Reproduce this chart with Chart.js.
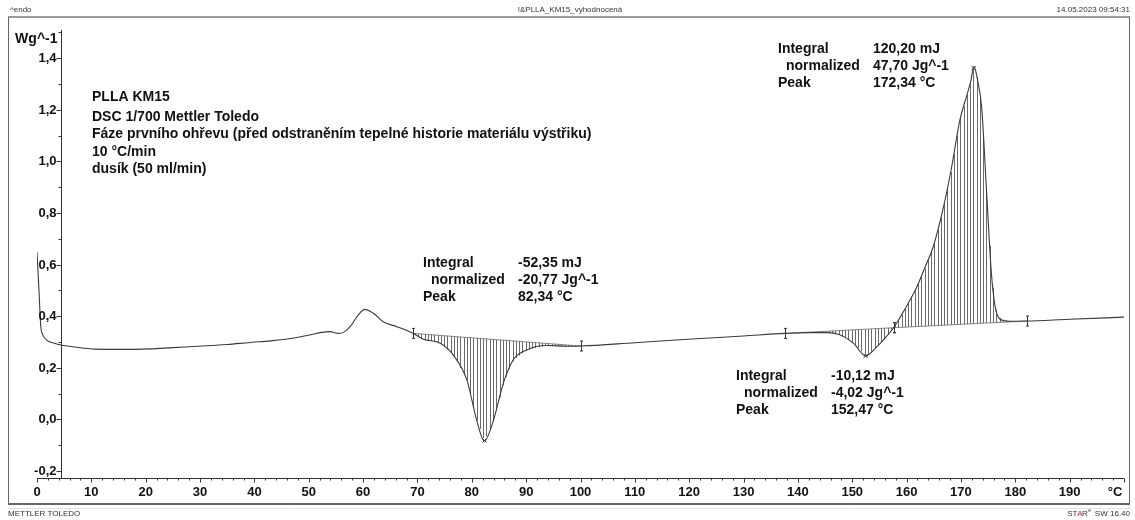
<!DOCTYPE html>
<html>
<head>
<meta charset="utf-8">
<script src="https://cdn.jsdelivr.net/npm/chart.js@4/dist/chart.umd.min.js"></script>
<style>
  html, body { margin: 0; padding: 0; background: #fff; }
  #wrap { width: 1135px; height: 520px; position: relative; }
</style>
</head>
<body>
<div id="wrap"><canvas id="dsc"></canvas></div>
<script>
// DSC curve, temperature in °C, heat flow in Wg^-1
var temps = [0, 0.35, 0.7, 1.0, 1.8, 3, 4.4, 7, 10.7, 15, 20.8, 25, 30.4, 35, 39.2, 43, 47.1, 50.2, 52.4, 53.9, 55.4, 56.5,
  57.6, 59.1, 60.3, 61.9, 63.7, 66.2, 69.2, 71.1, 74.2, 76.6, 79.1, 80.9, 82.3, 84.0, 85.8, 87.6, 90.1, 93.8, 97.5, 100.1,
  110, 122, 130, 137.6, 141.6, 145.3, 147.7, 150.2, 152.5, 154.5, 156.0, 157.6, 158.8, 160.3, 161.9, 163.4, 164.9, 166.8,
  168.3, 169.8, 171.0, 171.8, 172.4, 173.1, 173.8, 174.7, 175.6, 176.3, 177.2, 179, 182.1, 190, 200];
var heatFlow = [0.648, 0.505, 0.359, 0.33, 0.307, 0.296, 0.288, 0.280, 0.272, 0.271, 0.273, 0.278, 0.284, 0.290, 0.298, 0.304, 0.314, 0.327, 0.337, 0.340, 0.333, 0.338,
  0.359, 0.404, 0.426, 0.411, 0.378, 0.359, 0.333, 0.310, 0.295, 0.249, 0.152, -0.003, -0.084, -0.003, 0.140, 0.230, 0.269, 0.286, 0.283, 0.284,
  0.297, 0.313, 0.323, 0.333, 0.336, 0.336, 0.328, 0.295, 0.245, 0.281, 0.314, 0.355, 0.395, 0.450, 0.514, 0.590, 0.669, 0.824,
  0.979, 1.160, 1.250, 1.310, 1.367, 1.310, 1.212, 0.889, 0.566, 0.436, 0.388, 0.380, 0.381, 0.388, 0.396];

var xTicks = [0, 10, 20, 30, 40, 50, 60, 70, 80, 90, 100, 110, 120, 130, 140, 150, 160, 170, 180, 190];
var yTicks = [-0.2, 0, 0.2, 0.4, 0.6, 0.8, 1.0, 1.2, 1.4];

// integration limits and peaks of the three evaluated effects
var limitStart = [69.2, 137.6, 157.6];
var limitEnd = [100.1, 157.6, 182.1];
var peakTemps = [82.34, 152.47, 172.34];
var integralText = ['-52,35 mJ', '-10,12 mJ', '120,20 mJ'];
var normText = ['-20,77 Jg^-1', '-4,02 Jg^-1', '47,70 Jg^-1'];
var peakText = ['82,34 °C', '152,47 °C', '172,34 °C'];

var infoLines = ['PLLA KM15', 'DSC 1/700 Mettler Toledo',
  'Fáze prvního ohřevu (před odstraněním tepelné historie materiálu výstřiku)', '10 °C/min', 'dusík (50 ml/min)'];

var FONT = '"Liberation Sans", Arial, sans-serif';

function interp(t) {
  for (var i = 1; i < temps.length; i++) {
    if (t <= temps[i]) {
      var f = (t - temps[i - 1]) / (temps[i] - temps[i - 1]);
      return heatFlow[i - 1] + f * (heatFlow[i] - heatFlow[i - 1]);
    }
  }
  return heatFlow[heatFlow.length - 1];
}

var curve = temps.map(function (t, i) { return {x: t, y: heatFlow[i]}; });
var baseSets = limitStart.map(function (s, i) {
  return {
    data: [{x: s, y: interp(s)}, {x: limitEnd[i], y: interp(limitEnd[i])}],
    showLine: true, borderColor: '#6a6a6a', borderWidth: 0.8, pointRadius: 0
  };
});
var peakPts = peakTemps.map(function (t) { return {x: t, y: interp(t)}; });

// hatching, limit markers, axes, frame and texts
var printPlugin = {
  id: 'print',
  beforeDatasetsDraw: function (chart) {
    var c = chart.ctx, xs = chart.scales.x, ys = chart.scales.y;
    c.save();
    c.strokeStyle = '#444';
    c.lineWidth = 0.8;
    for (var k = 0; k < limitStart.length; k++) {
      var s = limitStart[k], e = limitEnd[k], b0 = interp(s), b1 = interp(e);
      for (var t = s + 0.3; t < e; t += 0.6) {
        var b = b0 + (b1 - b0) * (t - s) / (e - s);
        var px = Math.round(xs.getPixelForValue(t)) + 0.5;
        c.beginPath();
        c.moveTo(px, ys.getPixelForValue(b));
        c.lineTo(px, ys.getPixelForValue(interp(t)));
        c.stroke();
      }
    }
    c.restore();
  },
  afterDraw: function (chart) {
    var c = chart.ctx, xs = chart.scales.x, ys = chart.scales.y, a = chart.chartArea;
    c.save();

    // limit markers
    c.strokeStyle = '#333';
    c.lineWidth = 1;
    limitStart.concat(limitEnd).forEach(function (t) {
      var px = Math.round(xs.getPixelForValue(t)) + 0.5, py = ys.getPixelForValue(interp(t));
      c.beginPath();
      c.moveTo(px, py - 5); c.lineTo(px, py + 5);
      c.moveTo(px - 1.5, py - 5); c.lineTo(px + 1.5, py - 5);
      c.moveTo(px - 1.5, py + 5); c.lineTo(px + 1.5, py + 5);
      c.stroke();
    });

    // frame
    c.strokeStyle = '#9a9a9a'; c.lineWidth = 2;
    c.beginPath(); c.moveTo(8, 17); c.lineTo(1130, 17); c.stroke();
    c.strokeStyle = '#666'; c.lineWidth = 1;
    c.beginPath(); c.moveTo(8.5, 17); c.lineTo(8.5, 504); c.moveTo(1129.5, 17); c.lineTo(1129.5, 504); c.stroke();
    c.lineWidth = 2;
    c.beginPath(); c.moveTo(8, 504); c.lineTo(1130, 504); c.stroke();
    c.strokeStyle = '#e2e2e2'; c.lineWidth = 1;
    c.beginPath(); c.moveTo(8, 508.5); c.lineTo(1130, 508.5); c.stroke();

    // y axis, drawn at 4.4 °C like the instrument print
    var yx = Math.round(xs.getPixelForValue(4.4)) + 0.5;
    c.strokeStyle = '#333'; c.lineWidth = 1;
    c.beginPath(); c.moveTo(yx, a.top); c.lineTo(yx, a.bottom); c.stroke();
    c.fillStyle = '#111';
    c.font = 'bold 13px ' + FONT;
    c.textAlign = 'right'; c.textBaseline = 'middle';
    yTicks.forEach(function (v) {
      var py = Math.round(ys.getPixelForValue(v)) + 0.5;
      c.beginPath(); c.moveTo(yx - 5, py); c.lineTo(yx, py); c.stroke();
      c.fillText(v.toFixed(1).replace('.', ','), yx - 5, py);
      var pm = Math.round(ys.getPixelForValue(v + 0.1)) + 0.5;
      if (v + 0.1 < ys.max) { c.beginPath(); c.moveTo(yx - 3, pm); c.lineTo(yx, pm); c.stroke(); }
    });

    // x axis
    var ax = Math.round(a.bottom) + 0.5;
    c.beginPath(); c.moveTo(a.left, ax); c.lineTo(a.right, ax); c.stroke();
    for (var t = 0; t <= 200; t += 2) {
      var px = Math.round(xs.getPixelForValue(t)) + 0.5;
      var len = t % 10 === 0 ? 4 : 2;
      c.beginPath(); c.moveTo(px, ax); c.lineTo(px, ax + len); c.stroke();
    }
    c.textAlign = 'center';
    xTicks.forEach(function (v) {
      c.fillText(String(v), xs.getPixelForValue(v), 492);
    });
    c.fillText('°C', 1115, 492);

    c.font = 'bold 14px ' + FONT;
    c.textAlign = 'right';
    c.fillText('Wg^-1', yx - 4, 39);

    // info block
    c.textAlign = 'left';
    var infoY = [97, 117, 134, 152, 169];
    infoLines.forEach(function (s, i) { c.fillText(s, 92, infoY[i]); });

    // integral blocks
    var pos = [[423, 263], [736, 376], [778, 49]];
    pos.forEach(function (p, i) {
      c.fillText('Integral', p[0], p[1]);
      c.fillText('normalized', p[0] + 8, p[1] + 17);
      c.fillText('Peak', p[0], p[1] + 34);
      c.fillText(integralText[i], p[0] + 95, p[1]);
      c.fillText(normText[i], p[0] + 95, p[1] + 17);
      c.fillText(peakText[i], p[0] + 95, p[1] + 34);
    });

    // header and footer
    c.font = '8px ' + FONT;
    c.fillStyle = '#333';
    c.fillText('^endo', 10, 10);
    c.fillText('METTLER TOLEDO', 8, 514);
    c.textAlign = 'center';
    c.fillText('!&PLLA_KM15_vyhodnocená', 570, 10);
    c.textAlign = 'right';
    c.fillText('14.05.2023 09:54:31', 1130, 10);
    c.fillText('SW 16.40', 1130, 514);
    c.textAlign = 'left';
    var sx = 1130 - c.measureText('SW 16.40').width - 4 - 3 - c.measureText('STAR').width;
    c.fillText('ST', sx, 514);
    c.fillStyle = '#d22';
    c.fillText('A', sx + c.measureText('ST').width, 514);
    c.fillStyle = '#333';
    c.fillText('R', sx + c.measureText('STA').width, 514);
    var ex = sx + c.measureText('STAR').width + 0.5;
    c.font = '5px ' + FONT;
    c.fillText('e', ex, 511);
    c.restore();
  }
};

new Chart(document.getElementById('dsc'), {
  type: 'scatter',
  data: {
    datasets: [{
      data: curve, showLine: true, borderColor: '#3a3a3a', borderWidth: 1.1,
      pointRadius: 0, cubicInterpolationMode: 'monotone'
    }].concat(baseSets).concat([{
      data: peakPts, pointStyle: 'crossRot', pointRadius: 3, borderColor: '#333',
      borderWidth: 1, backgroundColor: '#333'
    }])
  },
  options: {
    responsive: true,
    maintainAspectRatio: false,
    animation: false,
    layout: {padding: {left: 37, right: 11, top: 30, bottom: 42}},
    plugins: {legend: {display: false}, tooltip: {enabled: false}},
    scales: {
      x: {type: 'linear', min: 0, max: 200, display: false},
      y: {type: 'linear', min: -0.2275, max: 1.509, display: false}
    }
  },
  plugins: [printPlugin]
});
</script>
</body>
</html>
